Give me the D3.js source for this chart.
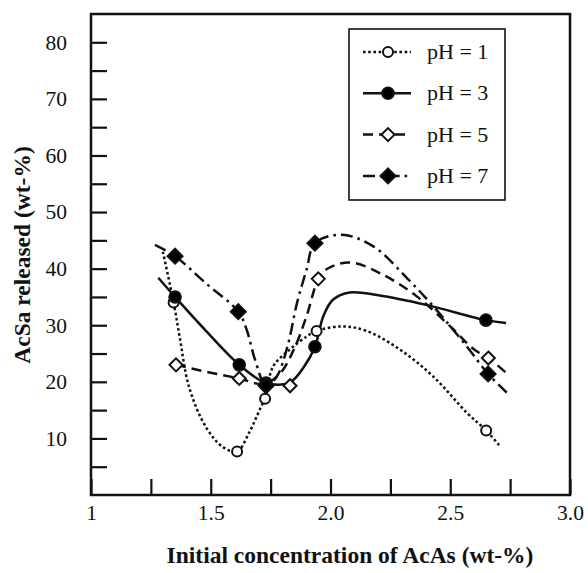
<!DOCTYPE html>
<html><head><meta charset="utf-8">
<script src="https://cdn.jsdelivr.net/npm/d3@7"></script>
<style>body{margin:0;background:#fff}svg{display:block}</style>
</head><body>
<svg id="c" width="588" height="573"></svg>
<script>
// ---- data ----
const seriesNames = ["pH = 1", "pH = 3", "pH = 5", "pH = 7"];
// measured points
const ph1X = [1.345, 1.61, 1.727, 1.942, 2.65];
const ph1Y = [34, 7.7, 17, 29, 11.4];
const ph3X = [1.351, 1.619, 1.731, 1.935, 2.649];
const ph3Y = [35, 23, 19.8, 26.2, 30.9];
const ph5X = [1.355, 1.619, 1.831, 1.949, 2.659];
const ph5Y = [23, 20.6, 19.3, 38.2, 24.2];
const ph7X = [1.351, 1.615, 1.731, 1.935, 2.658];
const ph7Y = [42.2, 32.4, 19.3, 44.5, 21.4];
// fitted curves
const ph1CurveX = [1.30, 1.345, 1.37, 1.41, 1.48, 1.55, 1.61, 1.66, 1.71, 1.727, 1.76, 1.83, 1.90, 1.942, 2.05, 2.15, 2.29, 2.43, 2.57, 2.65, 2.71];
const ph1CurveY = [43, 34, 28, 19, 12, 8.5, 7.7, 11, 15.6, 17, 22.7, 25.7, 28, 29, 29.8, 29, 25.7, 20.9, 14.5, 11.4, 8.5];
const ph3CurveX = [1.281, 1.351, 1.48, 1.619, 1.731, 1.83, 1.89, 1.935, 1.97, 2.01, 2.08, 2.2, 2.40, 2.649, 2.733];
const ph3CurveY = [38.4, 35, 29, 23, 19.8, 19.9, 22.7, 26.2, 31.6, 34.5, 35.8, 35.3, 33.6, 30.9, 30.4];
const ph5CurveX = [1.355, 1.5, 1.619, 1.72, 1.79, 1.85, 1.90, 1.949, 1.98, 2.08, 2.22, 2.36, 2.50, 2.60, 2.659, 2.747];
const ph5CurveY = [23, 21.6, 20.6, 19.6, 21.5, 26, 31.6, 38.2, 39.8, 41.1, 38.9, 35.1, 29.8, 25.7, 24.2, 21.1];
const ph7CurveX = [1.267, 1.351, 1.48, 1.615, 1.65, 1.685, 1.731, 1.775, 1.82, 1.86, 1.90, 1.935, 2.047, 2.18, 2.32, 2.43, 2.57, 2.658, 2.736];
const ph7CurveY = [44.2, 42.2, 37.4, 32.4, 29.2, 23.9, 19.3, 20.9, 26.2, 33.9, 39.8, 44.5, 46, 43.9, 38.3, 33.3, 26.2, 21.4, 18.1];
const xTickValues = [1, 1.25, 1.5, 1.75, 2, 2.25, 2.5, 2.75, 3];
const xTickLabels = ["1", "", "1.5", "", "2.0", "", "2.5", "", "3.0"];
const yTickValues = [5, 10, 15, 20, 25, 30, 35, 40, 45, 50, 55, 60, 65, 70, 75, 80];
const xTitle = "Initial concentration of AcAs (wt-%)";
const yTitle = "AcSa released (wt-%)";

// ---- layout ----
const svg = d3.select("#c");
const L = 91, R = 570, T = 14, B = 495;
const x = d3.scaleLinear().domain([1, 3]).range([L, R]);
const y = d3.scaleLinear().domain([0, 85]).range([B, T]);
const font = "'Liberation Serif','Times New Roman',serif";

const styles = [
  {dash: "2.6,2.6", marker: "circle", fill: "#fff"},
  {dash: null, marker: "circle", fill: "#000"},
  {dash: "10,6", marker: "diamond", fill: "#fff"},
  {dash: "12,5,2.6,5", marker: "diamond", fill: "#000"}
];
const pts = [
  d3.zip(ph1X, ph1Y), d3.zip(ph3X, ph3Y), d3.zip(ph5X, ph5Y), d3.zip(ph7X, ph7Y)
];
const curves = [
  d3.zip(ph1CurveX, ph1CurveY), d3.zip(ph3CurveX, ph3CurveY),
  d3.zip(ph5CurveX, ph5CurveY), d3.zip(ph7CurveX, ph7CurveY)
];

// axes
const xAxis = d3.axisBottom(x).tickValues(xTickValues).tickSize(-16).tickPadding(10)
  .tickFormat((d, i) => xTickLabels[i]);
const gx = svg.append("g").attr("transform", `translate(0,${B})`).call(xAxis);
const yAxis = d3.axisLeft(y).tickValues(yTickValues).tickSize(-16).tickPadding(24)
  .tickFormat(d => d % 10 === 0 ? d : "");
const gy = svg.append("g").attr("transform", `translate(${L},0)`).call(yAxis);
[gx, gy].forEach(g => {
  g.select(".domain").remove();
  g.selectAll(".tick line").attr("stroke", "#111").attr("stroke-width", 2.2);
  g.selectAll(".tick text").attr("fill", "#111").style("font-family", font).style("font-size", "21.5px");
});

// frame
svg.append("rect").attr("x", L).attr("y", T).attr("width", R - L).attr("height", B - T)
  .attr("fill", "none").attr("stroke", "#111").attr("stroke-width", 2.5);

// curves
const line = d3.line().x(d => x(d[0])).y(d => y(d[1])).curve(d3.curveCatmullRom.alpha(0.5));
curves.forEach((c, i) => {
  svg.append("path").attr("d", line(c)).attr("fill", "none").attr("stroke", "#111")
    .attr("stroke-width", 2.5).attr("stroke-dasharray", styles[i].dash);
});

function marker(g, type, fill, cx, cy) {
  if (type === "circle") {
    g.append("circle").attr("cx", cx).attr("cy", cy).attr("r", fill === "#000" ? 5.8 : 5)
      .attr("fill", fill).attr("stroke", "#111").attr("stroke-width", 2);
  } else {
    const s = fill === "#000" ? 7.5 : 6.5;
    g.append("path").attr("d", `M${cx},${cy - s}L${cx + s},${cy}L${cx},${cy + s}L${cx - s},${cy}Z`)
      .attr("fill", fill).attr("stroke", "#111").attr("stroke-width", 2);
  }
}
pts.forEach((p, i) => {
  const g = svg.append("g");
  p.forEach(d => marker(g, styles[i].marker, styles[i].fill, x(d[0]), y(d[1])));
});

// legend
svg.append("rect").attr("x", 349).attr("y", 29).attr("width", 156).attr("height", 171)
  .attr("fill", "#fff").attr("stroke", "#111").attr("stroke-width", 1.6);
seriesNames.forEach((n, i) => {
  const cy = 52 + i * 41.3;
  const g = svg.append("g");
  g.append("line").attr("x1", 363).attr("x2", 411).attr("y1", cy).attr("y2", cy)
    .attr("stroke", "#111").attr("stroke-width", 2.5).attr("stroke-dasharray", styles[i].dash);
  marker(g, styles[i].marker, styles[i].fill, 388, cy);
  g.append("text").attr("x", 427).attr("y", cy + 7).text(n)
    .style("font-family", font).style("font-size", "22px").attr("fill", "#111");
});

// titles
svg.append("text").attr("x", 350).attr("y", 563).attr("text-anchor", "middle").text(xTitle)
  .style("font-family", font).style("font-size", "23.5px").style("font-weight", "bold").attr("fill", "#111");
svg.append("text").attr("transform", "translate(30,255) rotate(-90)").attr("text-anchor", "middle").text(yTitle)
  .style("font-family", font).style("font-size", "23.5px").style("font-weight", "bold").attr("fill", "#111");
</script>
</body></html>
